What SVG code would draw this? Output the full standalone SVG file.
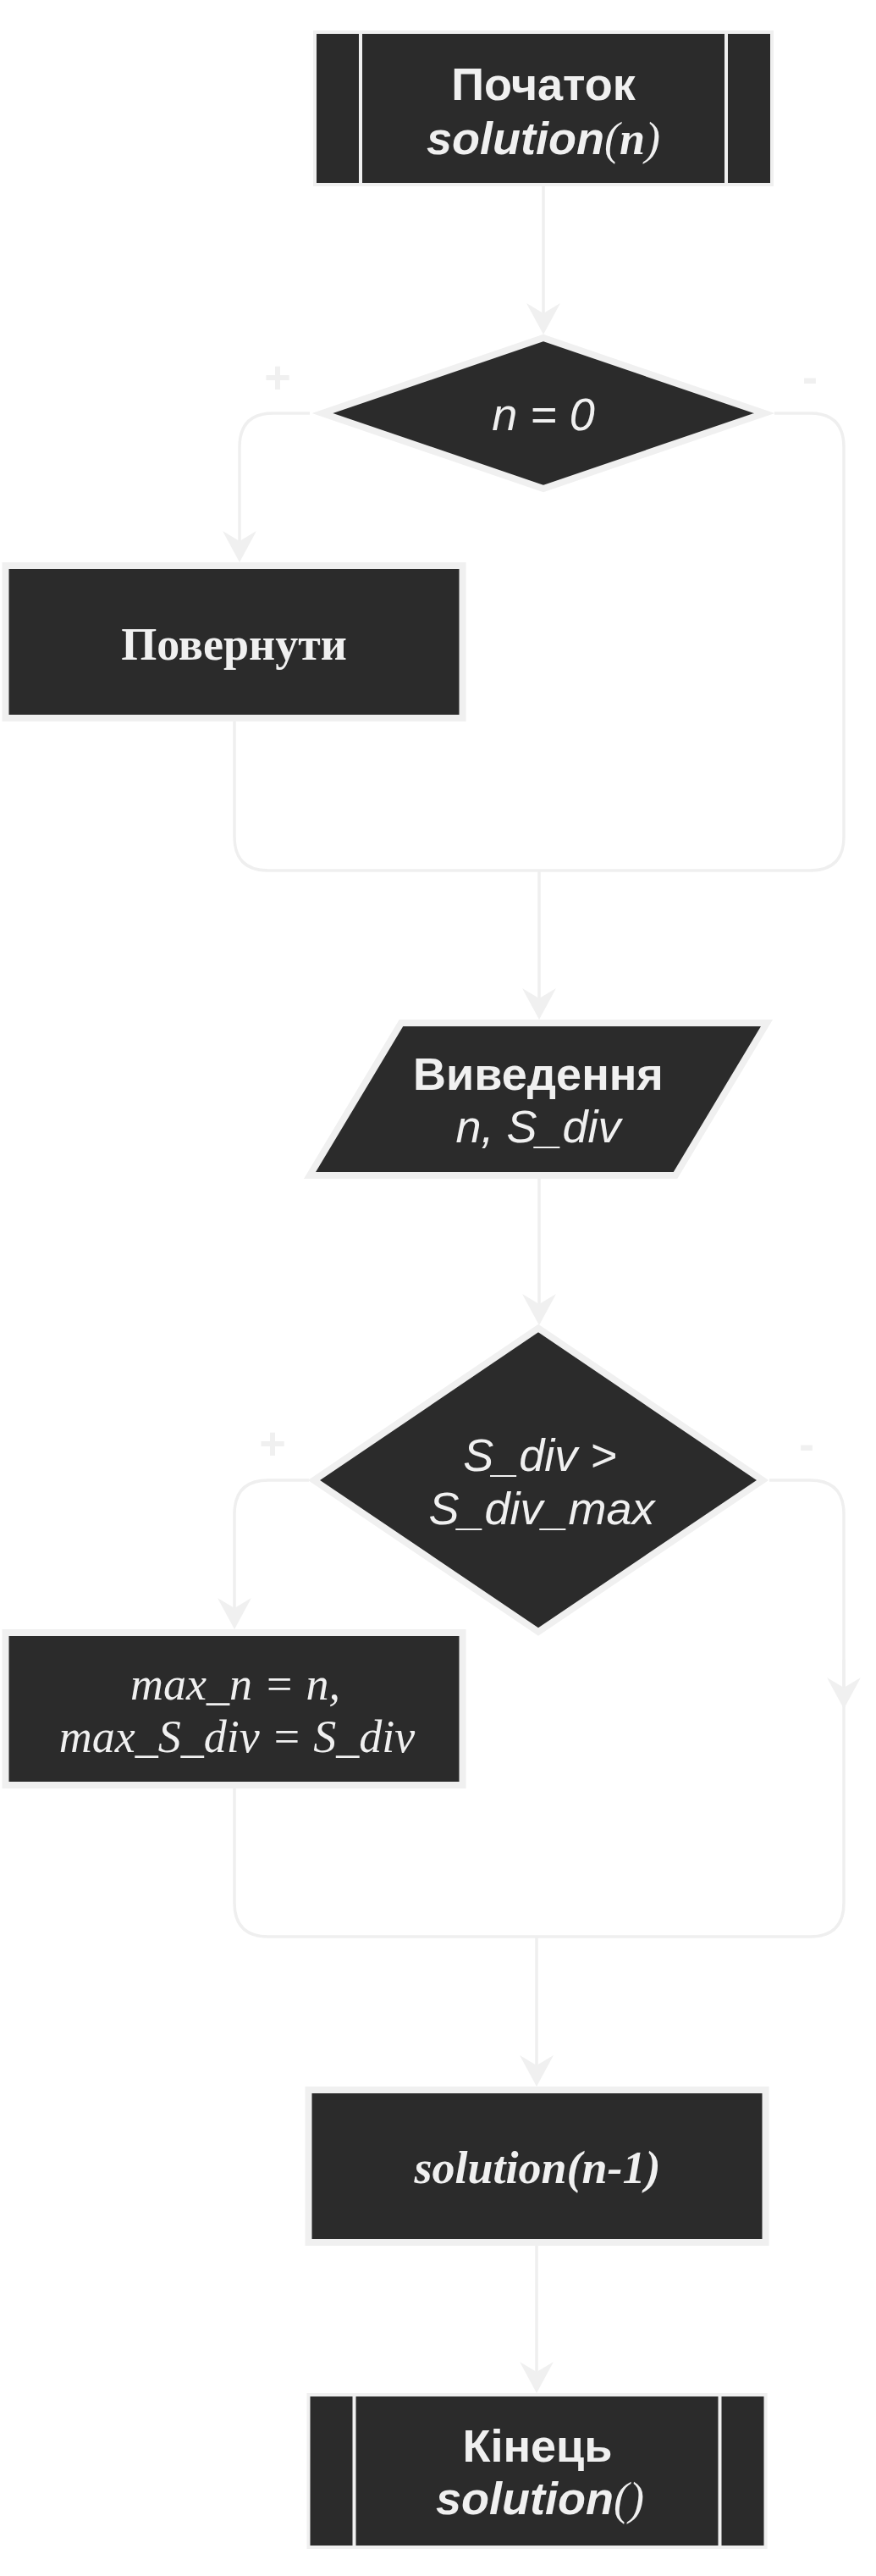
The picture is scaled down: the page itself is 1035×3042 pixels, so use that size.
<svg xmlns="http://www.w3.org/2000/svg" width="1035" height="3042" viewBox="0 0 1035 3042">
<style>
.n{fill:#2b2b2b;stroke:#f0f0f0}
.b4{stroke-width:4}
.b8{stroke-width:8}
.bar{stroke:#f0f0f0;stroke-width:4}
.c{fill:none;stroke:#efefef;stroke-width:3.5}
text{fill:#f0f0f0;font-size:54px;text-anchor:middle}
.sb{font-family:"Liberation Sans",Arial,sans-serif;font-weight:bold}
.si{font-family:"Liberation Sans",Arial,sans-serif;font-style:italic}
.sbi{font-family:"Liberation Sans",Arial,sans-serif;font-style:italic;font-weight:bold}
.tb{font-family:"Liberation Serif","Times New Roman",serif;font-weight:bold}
.ti{font-family:"Liberation Serif","Times New Roman",serif;font-style:italic}
.tbi{font-family:"Liberation Serif","Times New Roman",serif;font-style:italic;font-weight:bold}
.lbl{font-family:"Liberation Sans",Arial,sans-serif;font-weight:bold}
</style>
<defs>
<marker id="ah" markerUnits="userSpaceOnUse" markerWidth="40" markerHeight="40" refX="25" refY="20" orient="auto" viewBox="0 0 40 40">
<path d="M0,0 L37,20 L0,40 L12,20 Z" fill="#f0f0f0"/>
</marker>
</defs>
<rect width="1035" height="3042" fill="#ffffff"/>
<g id="connectors">
<path class="c" d="M642,220 V383" marker-end="url(#ah)"/>
<path class="c" d="M366,488 H323 Q283,488 283,528 V652" marker-end="url(#ah)"/>
<path class="c" d="M915,488 H957 Q997,488 997,528 V988 Q997,1028 957,1028 H317 Q277,1028 277,988 V852"/>
<path class="c" d="M637,1028 V1192" marker-end="url(#ah)"/>
<path class="c" d="M637,1392 V1553" marker-end="url(#ah)"/>
<path class="c" d="M365,1748 H317 Q277,1748 277,1788 V1912" marker-end="url(#ah)"/>
<path class="c" d="M909,1748 H957 Q997,1748 997,1788 V2247 Q997,2287 957,2287 H317 Q277,2287 277,2247 V2112"/>
<path class="c" d="M997,1960 V2006" marker-end="url(#ah)"/>
<path class="c" d="M634,2287 V2452" marker-end="url(#ah)"/>
<path class="c" d="M634,2652 V2814" marker-end="url(#ah)"/>
<text class="lbl" x="328" y="464">+</text>
<text class="lbl" x="957" y="464">-</text>
<text class="lbl" x="322" y="1723">+</text>
<text class="lbl" x="953" y="1724">-</text>
</g>
<g id="start">
<rect class="n b4" x="372" y="38" width="540" height="180"/>
<line class="bar" x1="426" y1="38" x2="426" y2="218"/>
<line class="bar" x1="858" y1="38" x2="858" y2="218"/>
<text class="sb" x="642" y="118">Початок</text>
<text x="642" y="182"><tspan class="sbi">solution</tspan><tspan class="ti">(</tspan><tspan class="tbi">n</tspan><tspan class="ti">)</tspan></text>
</g>
<g id="cond1">
<polygon class="n b8" points="642,399 903,488 642,577 381,488"/>
<text class="si" x="642" y="508">n = 0</text>
</g>
<g id="return">
<rect class="n b8" x="6.5" y="668" width="540" height="180"/>
<text class="tb" x="276.5" y="779">Повернути</text>
</g>
<g id="output">
<polygon class="n b8" points="474,1208 906,1208 798,1388 366,1388"/>
<text class="sb" x="636" y="1287">Виведення</text>
<text class="si" x="636" y="1349">n, S_div</text>
</g>
<g id="cond2">
<polygon class="n b8" points="636,1568.5 901,1748 636,1927 371,1748"/>
<text class="si" x="638" y="1737">S_div &gt;</text>
<text class="si" x="640" y="1800">S_div_max</text>
</g>
<g id="assign">
<rect class="n b8" x="6.5" y="1928" width="540" height="180"/>
<text class="ti" x="278" y="2007">max_n = n,</text>
<text class="ti" x="280" y="2069">max_S_div = S_div</text>
</g>
<g id="call">
<rect class="n b8" x="364.5" y="2468" width="540" height="180"/>
<text class="tbi" x="635" y="2578">solution(n-1)</text>
</g>
<g id="end">
<rect class="n b4" x="364.5" y="2828" width="540" height="180"/>
<line class="bar" x1="418.5" y1="2828" x2="418.5" y2="3008"/>
<line class="bar" x1="850.5" y1="2828" x2="850.5" y2="3008"/>
<text class="sb" x="635" y="2907">Кінець</text>
<text x="638" y="2969"><tspan class="sbi">solution</tspan><tspan class="ti">()</tspan></text>
</g>
</svg>
